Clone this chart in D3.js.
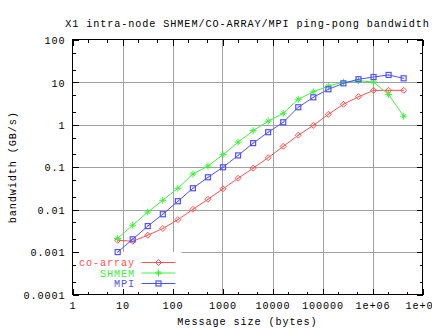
<!DOCTYPE html>
<html>
<head>
<meta charset="utf-8">
<script src="https://cdn.jsdelivr.net/npm/d3@7"></script>
<style>
html,body{margin:0;padding:0;background:#fff;}
svg{display:block;}
text{font-family:"Liberation Mono","DejaVu Sans Mono",monospace;font-size:10.2px;letter-spacing:0.9px;}
</style>
</head>
<body>
<svg id="chart" width="432" height="328"></svg>
<script>
// ---- data ----
const sizes = [8,16,32,64,128,256,512,1024,2048,4096,8192,16384,32768,65536,131072,262144,524288,1048576,2097152,4194304];
const coarray = [0.0019,0.0018,0.0025,0.0036,0.0058,0.0102,0.0176,0.031,0.055,0.095,0.168,0.31,0.57,0.97,1.77,3.05,4.6,6.5,6.5,6.5];
const shmem   = [0.0021,0.0043,0.0088,0.0166,0.032,0.069,0.107,0.198,0.39,0.73,1.22,1.87,4.0,6.0,8.2,10.1,11.0,10.2,5.2,1.6];
const mpi     = [0.001,0.002,0.0041,0.0078,0.0158,0.032,0.058,0.1,0.19,0.37,0.67,1.15,2.6,4.45,6.9,9.5,11.9,13.4,15.0,12.5];
const seriesNames = ["co-array","SHMEM","MPI"];
const xTickValues = [1,10,100,1000,10000,100000,1000000,10000000];
const xTickLabels = ["1","10","100","1000","10000","100000","1e+06","1e+07"];
const yTickValues = [0.0001,0.001,0.01,0.1,1,10,100];
const yTickLabels = ["0.0001","0.001","0.01","0.1","1","10","100"];
const titleText = "X1 intra-node SHMEM/CO-ARRAY/MPI ping-pong bandwidth";
const xLabel = "Message size (bytes)";
const yLabel = "bandwidth (GB/s)";

// ---- layout ----
const L = 72.5, R = 422.5, T = 40, B = 294.5;
const colors = ["#ff5050","#40f040","#5050ff"];
const svg = d3.select("#chart");
const x = d3.scaleLog().domain([1,1e7]).range([L,R]);
const y = d3.scaleLog().domain([1e-4,100]).range([B,T]);

// minor tick values
const minorMult = [2,5];
const xMinor = [], yMinor = [];
for (let e=0;e<7;e++) minorMult.forEach(m=>xMinor.push(m*Math.pow(10,e)));
for (let e=-4;e<2;e++) minorMult.forEach(m=>yMinor.push(m*Math.pow(10,e)));

const g = svg.append("g");

// grid
const grid = g.append("g").attr("stroke","#a0a0a0").attr("stroke-width",1).attr("shape-rendering","crispEdges");
xTickValues.slice(1,-1).forEach(v=>{
  const px = Math.round(x(v))+0.5;
  grid.append("line").attr("x1",px).attr("x2",px).attr("y1",T).attr("y2",B);
});
yTickValues.slice(1,-1).forEach(v=>{
  const py = Math.round(y(v))+0.5;
  grid.append("line").attr("x1",L).attr("x2",R).attr("y1",py).attr("y2",py);
});

// legend background (clears grid)
g.append("rect").attr("x",L+3).attr("y",252).attr("width",106).attr("height",40).attr("fill","#fff");

function styleAxis(sel){
  sel.attr("shape-rendering","crispEdges");
  sel.select(".domain").remove();
  sel.selectAll("line").attr("stroke","#000");
}
const majorLen = 6, minorLen = 3;
// bottom
g.append("g").attr("transform",`translate(0,${B})`)
  .call(d3.axisBottom(x).tickValues(xTickValues).tickSize(-majorLen).tickFormat((d,i)=>xTickLabels[i]).tickPadding(0))
  .call(styleAxis)
  .call(s=>s.selectAll("text").attr("y",14).attr("dy",null).attr("fill","#000").attr("font-family",null).attr("font-size",null));
g.append("g").attr("transform",`translate(0,${B})`)
  .call(d3.axisBottom(x).tickValues(xMinor).tickSize(-minorLen).tickFormat(""))
  .call(styleAxis);
// top
g.append("g").attr("transform",`translate(0,${T})`)
  .call(d3.axisTop(x).tickValues(xTickValues).tickSize(-majorLen).tickFormat(""))
  .call(styleAxis);
g.append("g").attr("transform",`translate(0,${T})`)
  .call(d3.axisTop(x).tickValues(xMinor).tickSize(-minorLen).tickFormat(""))
  .call(styleAxis);
// left
g.append("g").attr("transform",`translate(${L},0)`)
  .call(d3.axisLeft(y).tickValues(yTickValues).tickSize(-majorLen).tickFormat((d,i)=>yTickLabels[i]).tickPadding(0))
  .call(styleAxis)
  .call(s=>s.selectAll("text").attr("x",-7).attr("dy","0.36em").attr("fill","#000").attr("font-family",null).attr("font-size",null));
g.append("g").attr("transform",`translate(${L},0)`)
  .call(d3.axisLeft(y).tickValues(yMinor).tickSize(-minorLen).tickFormat(""))
  .call(styleAxis);
// right
g.append("g").attr("transform",`translate(${R},0)`)
  .call(d3.axisRight(y).tickValues(yTickValues).tickSize(-majorLen).tickFormat(""))
  .call(styleAxis);
g.append("g").attr("transform",`translate(${R},0)`)
  .call(d3.axisRight(y).tickValues(yMinor).tickSize(-minorLen).tickFormat(""))
  .call(styleAxis);

// border
g.append("rect").attr("x",L).attr("y",T-0.5).attr("width",R-L).attr("height",B-T+0.5)
  .attr("fill","none").attr("stroke","#000").attr("shape-rendering","crispEdges");

// markers
function marker(sel, type, color){
  if(type===0){ // diamond with dot
    sel.append("path").attr("d","M0,-3L3,0L0,3L-3,0Z").attr("fill","none").attr("stroke",color);
    sel.append("rect").attr("x",-0.5).attr("y",-0.5).attr("width",1).attr("height",1).attr("fill",color);
  } else if(type===1){ // plus
    sel.append("path").attr("d","M-3.5,0H3.5M0,-3.5V3.5M-2,-2L2,2M-2,2L2,-2").attr("stroke",color).attr("stroke-width",1);
  } else { // square with dot
    sel.append("rect").attr("x",-2.5).attr("y",-2.5).attr("width",5).attr("height",5).attr("fill","none").attr("stroke",color).attr("stroke-width",1.2);
    sel.append("rect").attr("x",-0.5).attr("y",-0.5).attr("width",1).attr("height",1).attr("fill",color);
  }
}

const allSeries = [coarray, shmem, mpi];
const line = d3.line().x((d,i)=>x(sizes[i])).y(d=>y(d));
allSeries.forEach((vals,si)=>{
  const sg = g.append("g");
  sg.append("path").datum(vals).attr("d",line).attr("fill","none").attr("stroke",colors[si]).attr("stroke-width",1);
  vals.forEach((v,i)=>{
    const m = sg.append("g").attr("transform",`translate(${x(sizes[i])},${y(v)})`);
    marker(m, si, colors[si]);
  });
});

// legend
const legY = [262.5, 273, 283.5];
seriesNames.forEach((n,si)=>{
  const lg = g.append("g");
  lg.append("text").attr("x",135).attr("y",legY[si]).attr("dy","0.36em").attr("text-anchor","end").attr("fill",colors[si]).text(n);
  lg.append("line").attr("x1",141.5).attr("x2",175.5).attr("y1",legY[si]).attr("y2",legY[si]).attr("stroke",colors[si]);
  const m = lg.append("g").attr("transform",`translate(158.5,${legY[si]})`);
  marker(m, si, colors[si]);
});

// titles
svg.append("text").attr("x",(L+R)/2).attr("y",27).attr("text-anchor","middle").attr("fill","#000").text(titleText);
svg.append("text").attr("x",(L+R)/2).attr("y",325).attr("text-anchor","middle").attr("fill","#000").text(xLabel);
svg.append("text").attr("transform",`translate(16,${(T+B)/2}) rotate(-90)`).attr("text-anchor","middle").attr("fill","#000").text(yLabel);
</script>
</body>
</html>
